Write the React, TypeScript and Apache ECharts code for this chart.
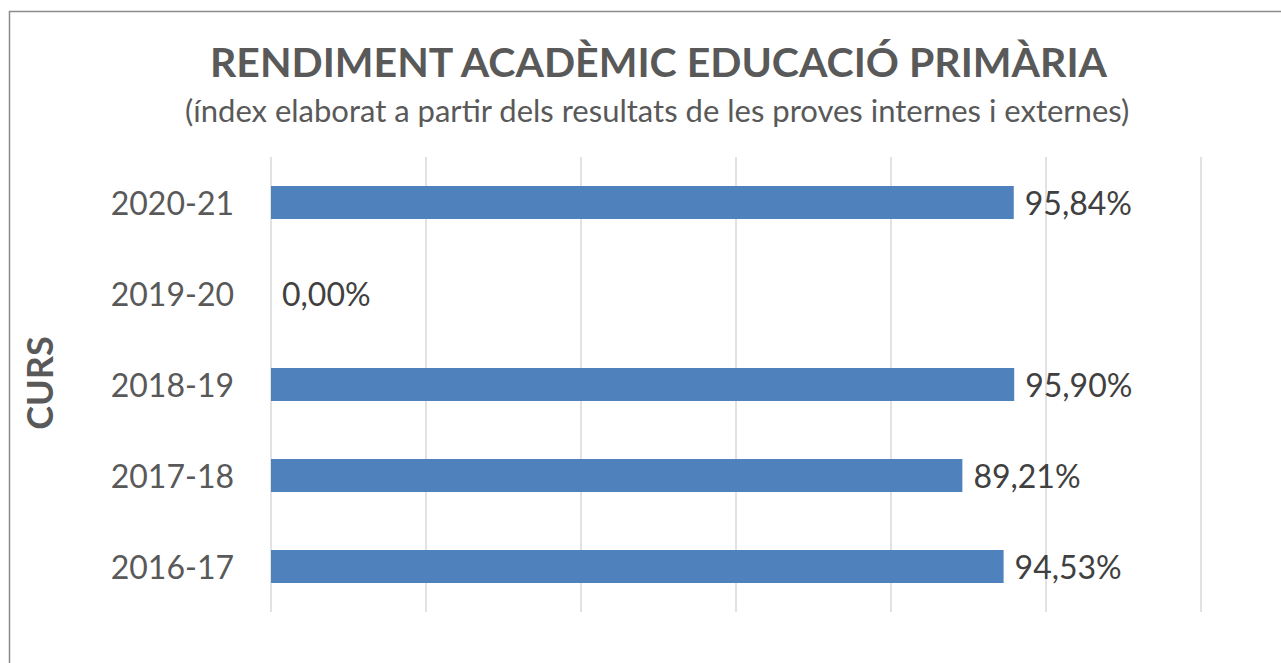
import React, { useEffect, useRef } from "react";
import * as echarts from "echarts";

const categories = ["2016-17", "2017-18", "2018-19", "2019-20", "2020-21"];
const values = [94.53, 89.21, 95.9, 0.0, 95.84];
const titleText = "RENDIMENT ACADÈMIC EDUCACIÓ PRIMÀRIA";
const subtitleText = "(índex elaborat a partir dels resultats de les proves internes i externes)";
const axisName = "CURS";

const FONT = "Lato, 'Open Sans', sans-serif";

export default function App() {
  const ref = useRef<HTMLDivElement>(null);
  useEffect(() => {
    document.body.style.margin = "0";
    const chart = echarts.init(ref.current!, null, { renderer: "svg" });
    chart.setOption({
      animation: false,
      backgroundColor: "#ffffff",
      title: [
        {
          text: titleText,
          left: 205,
          top: 36,
          textStyle: { fontFamily: FONT, fontSize: 41, fontWeight: "bold", color: "#595959" },
        },
        {
          text: subtitleText,
          left: 180,
          top: 89,
          textStyle: { fontFamily: FONT, fontSize: 31, fontWeight: "normal", color: "#595959" },
        },
      ],
      graphic: [
        {
          type: "rect",
          shape: { x: 9.5, y: 11.5, width: 1290, height: 700 },
          style: { fill: "none", stroke: "#8c8c8c", lineWidth: 1.5 },
          silent: true,
        },
        {
          type: "text",
          x: 39,
          y: 383,
          rotation: Math.PI / 2,
          style: {
            text: axisName,
            fontFamily: FONT,
            fontSize: 36,
            fontWeight: "bold",
            fill: "#595959",
            align: "center",
            verticalAlign: "middle",
          },
        },
      ],
      grid: { left: 271, right: 80, top: 157, bottom: 51, containLabel: false },
      xAxis: {
        type: "value",
        min: 0,
        max: 120,
        interval: 20,
        axisLabel: { show: false },
        axisLine: { show: false },
        axisTick: { show: false },
        splitLine: { show: true, lineStyle: { color: "#d9d9d9", width: 1.5 } },
      },
      yAxis: {
        type: "category",
        data: categories,
        axisLine: { show: false },
        axisTick: { show: false },
        axisLabel: { fontFamily: FONT, fontSize: 32, color: "#595959", margin: 37 },
      },
      series: [
        {
          type: "bar",
          data: values,
          barWidth: 33,
          itemStyle: { color: "#4f81bd" },
          label: {
            show: true,
            position: "right",
            distance: 11,
            fontFamily: FONT,
            fontSize: 32,
            color: "#404040",
            formatter: (p: any) => p.value.toFixed(2).replace(".", ",") + "%",
          },
        },
      ],
    });
    return () => chart.dispose();
  }, []);
  return <div ref={ref} style={{ width: 1281, height: 663 }} />;
}
